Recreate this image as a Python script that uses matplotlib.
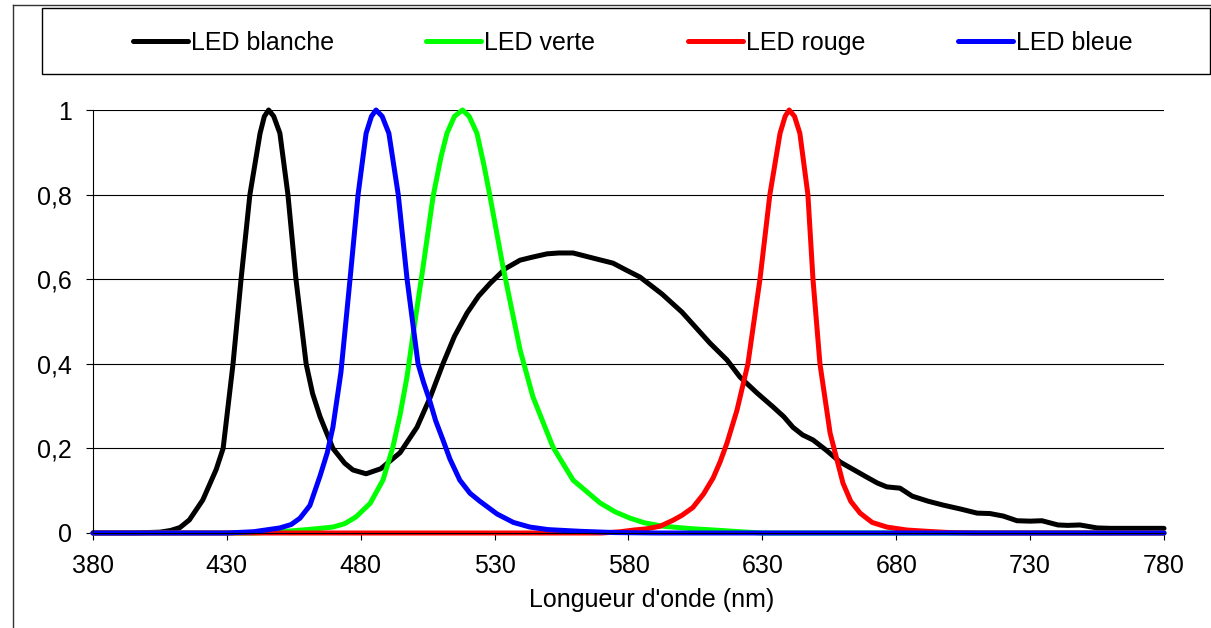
import matplotlib
matplotlib.use("Agg")
import matplotlib.pyplot as plt
from matplotlib.lines import Line2D
from matplotlib.patches import Rectangle

plt.rcParams['font.family'] = ['Liberation Sans', 'DejaVu Sans']

# Normalised emission spectra of four LEDs (wavelength in nm, relative intensity)
wl_blanche = [380, 395, 405, 409, 412.5, 416, 421, 426, 428.6, 432.3, 435.3, 438.6, 442.4,
              444, 445.6, 447.5, 449.8, 452.8, 455.8, 459.6, 462, 464.8, 469.6, 474, 477.1,
              482, 487.5, 494.7, 501, 505.9, 510.7, 515, 519.7, 524, 528.3, 534, 539.5, 544,
              549.6, 554, 559.3, 566.7, 574.2, 579, 584.3, 592.5, 600, 610.4, 616.8, 621.6,
              628, 634, 638, 641.4, 645, 648.9, 654, 659, 664, 669, 673, 676.5, 681.4, 686,
              692, 697.5, 703.8, 710.2, 715, 720, 725.1, 730, 734.4, 740.4, 744, 748.6, 755,
              760, 780]
val_blanche = [0, 0, 0.002, 0.006, 0.013, 0.031, 0.078, 0.15, 0.20, 0.40, 0.60, 0.80, 0.945,
               0.985, 1.0, 0.985, 0.945, 0.80, 0.60, 0.40, 0.33, 0.275, 0.20, 0.165, 0.149,
               0.14, 0.152, 0.19, 0.25, 0.32, 0.40, 0.465, 0.52, 0.56, 0.59, 0.625, 0.645, 0.652,
               0.66, 0.662, 0.662, 0.65, 0.638, 0.622, 0.605, 0.565, 0.522, 0.449, 0.409, 0.369,
               0.331, 0.298, 0.275, 0.25, 0.232, 0.22, 0.195, 0.168, 0.15, 0.132, 0.118, 0.109,
               0.106, 0.087, 0.075, 0.066, 0.057, 0.047, 0.046, 0.04, 0.029, 0.028, 0.029, 0.019,
               0.018, 0.019, 0.012, 0.011, 0.011]

wl_verte = [380, 440, 450, 460, 469.6, 474, 478.2, 483.5, 488.3, 492, 494.7, 497.3, 499.6,
            503.3, 507, 510, 512.2, 515, 518, 520.5, 523.4, 526, 528.3, 533.1, 539.5, 544.3,
            551.8, 559.3, 569.4, 575, 580.6, 586, 592.9, 604, 612, 621.6, 630, 780]
val_verte = [0, 0, 0.003, 0.008, 0.014, 0.022, 0.038, 0.07, 0.125, 0.203, 0.28, 0.37, 0.472,
             0.63, 0.795, 0.89, 0.945, 0.985, 1.0, 0.985, 0.945, 0.87, 0.795, 0.63, 0.433,
             0.322, 0.203, 0.125, 0.071, 0.05, 0.035, 0.024, 0.016, 0.01, 0.007, 0.003, 0, 0]

wl_rouge = [380, 570, 577, 582, 586.9, 591.8, 596.6, 600, 604, 608, 611.6, 614.2, 616.8,
            620.5, 622, 624.6, 629.1, 632.8, 636.6, 638.5, 640, 642, 644, 647, 648.9, 651.5,
            655.3, 660.1, 663, 666.5, 671, 676.5, 684, 691.5, 700, 710, 780]
val_rouge = [0, 0, 0.003, 0.007, 0.01, 0.016, 0.03, 0.042, 0.06, 0.092, 0.13, 0.168, 0.213,
             0.29, 0.33, 0.40, 0.60, 0.80, 0.945, 0.985, 1.0, 0.985, 0.945, 0.80, 0.60, 0.40,
             0.236, 0.118, 0.075, 0.047, 0.025, 0.014, 0.007, 0.004, 0.001, 0, 0]

wl_bleue = [380, 430, 440, 449.8, 454, 457.3, 461, 464.8, 467.5, 469.6, 472.6, 476, 479, 482,
            484, 485.7, 488, 490.5, 494, 497.3, 501.4, 503.5, 505.9, 508, 510.7, 513.3, 517,
            520.8, 524.5, 530.9, 537, 543.2, 550, 561.9, 575, 590, 780]
val_bleue = [0, 0, 0.003, 0.012, 0.02, 0.035, 0.065, 0.135, 0.19, 0.25, 0.38, 0.60, 0.80,
             0.945, 0.985, 1.0, 0.985, 0.945, 0.80, 0.60, 0.40, 0.355, 0.31, 0.265, 0.22,
             0.175, 0.125, 0.094, 0.075, 0.045, 0.025, 0.014, 0.008, 0.004, 0.001, 0, 0]

series = [
    ("LED blanche", wl_blanche, val_blanche, "#000000"),
    ("LED verte", wl_verte, val_verte, "#00ff00"),
    ("LED rouge", wl_rouge, val_rouge, "#ff0000"),
    ("LED bleue", wl_bleue, val_bleue, "#0000ff"),
]

x_ticks = [380, 430, 480, 530, 580, 630, 680, 730, 780]
y_ticks = [0, 0.2, 0.4, 0.6, 0.8, 1.0]
y_tick_labels = ["0", "0,2", "0,4", "0,6", "0,8", "1"]

W, H = 1211, 628
fig = plt.figure(figsize=(W / 100, H / 100), dpi=100)
ax = fig.add_axes([93 / W, 1 - 533 / H, (1164 - 93) / W, (533 - 110) / H])

handles = []
for name, xs, ys, col in series:
    ln, = ax.plot(xs, ys, color=col, lw=3.6, label=name, clip_on=False,
                  solid_joinstyle="round", solid_capstyle="round")
    handles.append(ln)

ax.set_xlim(380, 780)
ax.set_ylim(0, 1)
ax.set_xticks(x_ticks)
ax.set_yticks(y_ticks)
ax.set_yticklabels(y_tick_labels)
ax.tick_params(axis="both", direction="out", length=5, width=0.8, color="black",
               labelsize=18, pad=10)
ax.yaxis.grid(True, color="black", lw=0.8)
ax.set_axisbelow(True)
for side in ("top", "right"):
    ax.spines[side].set_visible(False)
for side in ("left", "bottom"):
    ax.spines[side].set_color("black")
    ax.spines[side].set_linewidth(0.8)

ax.set_xlabel("Longueur d'onde (nm)", fontsize=18)
ax.xaxis.set_label_coords((652 - 93) / 1071, -0.13)

# Outer chart frame
fig.add_artist(Line2D([13 / W, 13 / W], [0, 1 - 5 / H], transform=fig.transFigure,
                      color="#333333", lw=1.0))
fig.add_artist(Line2D([13 / W, 1], [1 - 5 / H, 1 - 5 / H], transform=fig.transFigure,
                      color="#333333", lw=1.0))

# Legend box
fig.add_artist(Rectangle((42 / W, 1 - 74 / H), (1210 - 42) / W, (74 - 8) / H,
                         transform=fig.transFigure, fill=False, edgecolor="black", lw=1.0))
fig.legend(handles=handles, loc="center", ncol=4, frameon=False, fontsize=18,
           bbox_to_anchor=((42 + 1210) / 2 / W + 0.0055, 1 - 43 / H),
           handlelength=2.2, handletextpad=0.12, columnspacing=3.7)

fig.savefig("out.png", dpi=100)
